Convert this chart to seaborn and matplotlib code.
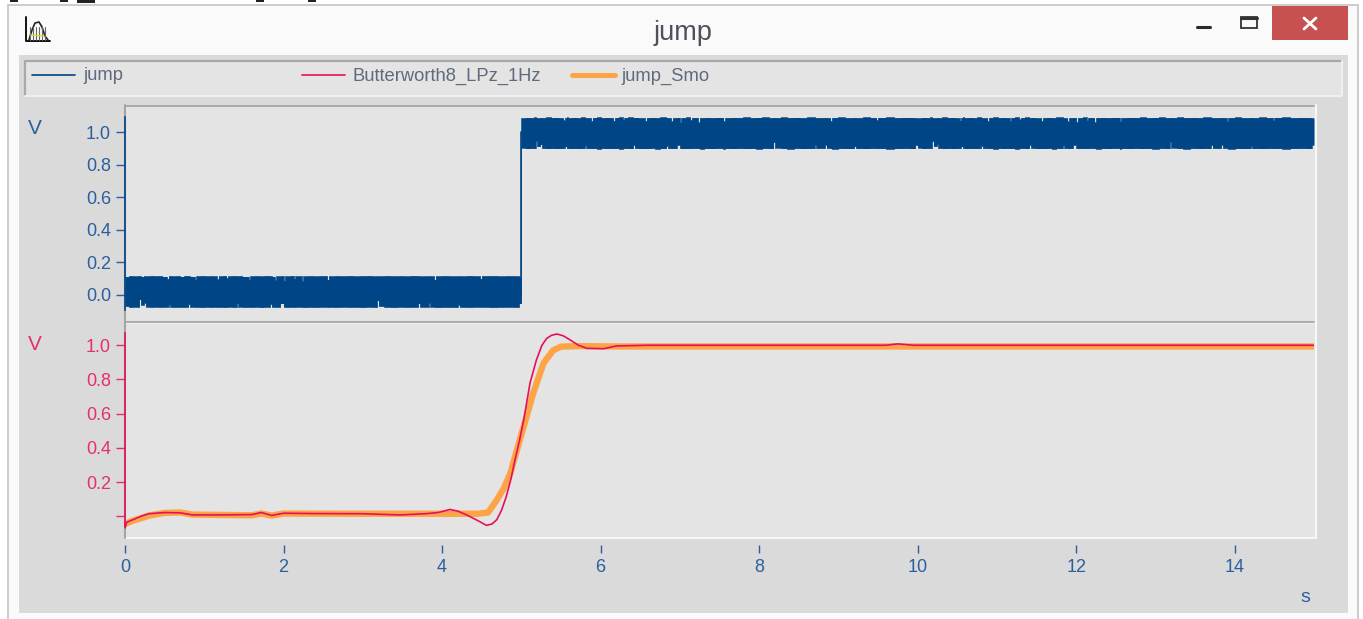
import numpy as np
import pandas as pd
import matplotlib.pyplot as plt
from matplotlib.patches import Rectangle
import seaborn as sns

# one 5 s stretch of the noise band, it repeats in the picture (offset from the level)
noise_t = [0.00, 0.05, 0.11, 0.16, 0.18, 0.20, 0.24, 0.26, 0.31, 0.37, 0.42, 0.47, 0.53, 0.55, 0.57, 0.59,
           0.64, 0.70, 0.75, 0.80, 0.82, 0.88, 0.90, 0.95, 1.01, 1.06, 1.11, 1.16, 1.18, 1.23, 1.28, 1.30,
           1.35, 1.41, 1.43, 1.48, 1.56, 1.58, 1.63, 1.69, 1.75, 1.83, 1.85, 1.89, 1.91, 1.96, 2.00, 2.02,
           2.08, 2.13, 2.15, 2.23, 2.25, 2.31, 2.38, 2.45, 2.55, 2.57, 2.64, 2.72, 2.80, 2.88, 2.96, 3.04,
           3.12, 3.18, 3.20, 3.27, 3.35, 3.44, 3.52, 3.60, 3.70, 3.72, 3.83, 3.85, 3.90, 3.92, 4.00, 4.08,
           4.20, 4.22, 4.31, 4.40, 4.48, 4.50, 4.60, 4.70, 4.80, 4.90, 4.97]
noise_top = [.100, .104, .102, .105, .103, .101, .104, .102, .105, .103, .104, .101, .086, .103, .105, .102,
             .104, .101, .105, .103, .101, .082, .103, .105, .102, .104, .102, .084, .103, .105, .092, .103,
             .105, .102, .104, .101, .082, .102, .104, .102, .105, .103, .101, .080, .102, .104, .076, .102,
             .105, .088, .103, .074, .102, .104, .102, .104, .082, .102, .104, .103, .105, .102, .104, .105,
             .102, .104, .102, .105, .103, .104, .102, .105, .103, .102, .104, .102, .082, .103, .105, .102,
             .104, .102, .105, .103, .088, .104, .105, .102, .104, .103, .100]
noise_bot = [-.080, -.086, -.084, -.085, -.040, -.072, -.060, -.083, -.086, -.084, -.086, -.085, -.083, -.072, -.083, -.086,
             -.085, -.086, -.085, -.068, -.084, -.086, -.085, -.087, -.084, -.086, -.085, -.086, -.085, -.087, -.085, -.084,
             -.086, -.064, -.083, -.086, -.085, -.086, -.084, -.087, -.085, -.068, -.084, -.086, -.085, -.064, -.084, -.086,
             -.085, -.086, -.084, -.086, -.087, -.085, -.086, -.084, -.087, -.085, -.086, -.084, -.086, -.085, -.087, -.084,
             -.086, -.046, -.080, -.085, -.087, -.084, -.086, -.085, -.064, -.084, -.062, -.083, -.086, -.087, -.085, -.086,
             -.072, -.085, -.086, -.084, -.086, -.085, -.087, -.085, -.084, -.086, -.064]
segment_start = [0, 5, 10]
segment_level = [0.012, 0.985, 0.985]

# lower plot, filtered signals
butter_t = [0.00, 0.02, 0.10, 0.20, 0.30, 0.50, 0.70, 0.85, 1.20, 1.60, 1.72, 1.85, 2.00, 2.40, 3.00, 3.47, 3.79, 3.95,
            4.10, 4.20, 4.31, 4.45, 4.56, 4.63, 4.69, 4.75, 4.81, 4.87, 4.92, 4.98, 5.03, 5.11, 5.19, 5.26, 5.32, 5.38,
            5.45, 5.53, 5.62, 5.72, 5.83, 6.04, 6.20, 6.60, 8.00, 9.60, 9.75, 9.95, 12.00, 15.00]
butter_v = [-0.07, -0.035, -0.02, 0.000, 0.015, 0.022, 0.020, 0.008, 0.008, 0.010, 0.022, 0.005, 0.018, 0.016, 0.015, 0.008, 0.015, 0.022,
            0.040, 0.030, 0.008, -0.025, -0.053, -0.045, -0.020, 0.035, 0.115, 0.220, 0.330, 0.450, 0.563, 0.780, 0.914, 1.000, 1.040, 1.058,
            1.066, 1.055, 1.030, 1.000, 0.982, 0.980, 0.996, 1.000, 1.000, 1.000, 1.008, 1.000, 1.000, 1.000]
smo_t = [0.00, 0.10, 0.20, 0.30, 0.50, 0.70, 0.85, 1.60, 1.72, 1.85, 2.00, 3.00, 4.00, 4.45, 4.58, 4.69, 4.78, 4.86, 4.98,
         5.07, 5.15, 5.28, 5.40, 5.50, 5.70, 6.20, 10.00, 15.00]
smo_v = [-0.045, -0.025, -0.012, 0.004, 0.020, 0.022, 0.010, 0.006, 0.016, 0.004, 0.016, 0.015, 0.015, 0.015, 0.022, 0.095, 0.165, 0.250, 0.446,
         0.590, 0.720, 0.895, 0.970, 0.992, 0.995, 0.993, 0.993, 0.993]

x_ticks = [0, 2, 4, 6, 8, 10, 12, 14]
top_y_ticks = [0.0, 0.2, 0.4, 0.6, 0.8, 1.0]
low_y_ticks = [0.0, 0.2, 0.4, 0.6, 0.8, 1.0]
low_y_labels = ["", "0.2", "0.4", "0.6", "0.8", "1.0"]

blue = "#004586"
red = "#e4105a"
orange = "#ffa347"
tick_blue = "#2b5f9e"
tick_red = "#e5306a"
panel = "#e4e4e4"
outer = "#dadada"

W, H = 1363, 619

sns.set_theme(style="white")
plt.rcParams['font.family'] = ['Liberation Sans', 'DejaVu Sans']

fig = plt.figure(figsize=(W / 100, H / 100), dpi=100, facecolor="white")

# window chrome, drawn in pixel coordinates
bg = fig.add_axes([0, 0, 1, 1], zorder=0)
bg.set_xlim(0, W)
bg.set_ylim(H, 0)
bg.axis("off")


def box(x0, y0, x1, y1, **kw):
    bg.add_patch(Rectangle((x0, y0), x1 - x0, y1 - y0, **kw))


box(8, 5, 1358, 640, facecolor="#fafafa", edgecolor="#c4c4c4", lw=1.2)
box(19, 55, 1348, 613, facecolor=outer, edgecolor="none")
box(1272, 6, 1348, 40, facecolor="#c75050", edgecolor="none")
bg.plot([1304, 1316], [18, 29], color="white", lw=2)
bg.plot([1304, 1316], [29, 18], color="white", lw=2)
bg.plot([1197, 1210], [27, 27], color="#2a2a2a", lw=2.2)
box(1241, 17, 1257, 28, facecolor="none", edgecolor="#333333", lw=1.3)
bg.plot([1241, 1257], [17.5, 17.5], color="#333333", lw=2.2)
for bx0, bx1, by in [(10, 18, 1.5), (60, 68, 1.5), (77, 95, 3), (256, 264, 1.5), (308, 316, 1.5)]:
    box(bx0, 0, bx1, by, facecolor="#222222", edgecolor="none")

# little app icon
bg.plot([26, 26, 50], [17, 41, 41], color="#111111", lw=1.4)
bg.plot([29, 32, 35, 39, 42, 45, 48], [40, 30, 23, 22, 27, 36, 40], color="#222222", lw=1.2)
for ix in [30, 33, 36, 39, 42, 45]:
    bg.plot([ix, ix], [40, 27], color="#666666", lw=0.8)
bg.plot([31, 44], [35, 36], color="#e3d820", lw=0.9)

bg.text(683, 33, "jump", fontsize=19.5, color="#50505c", ha="center", va="center")

# legend box
box(24, 60, 1342, 96, facecolor=panel, edgecolor="none")
bg.plot([25, 25, 1341], [95, 61, 61], color="#a9a9a9", lw=1.6)
bg.plot([25, 1342, 1342], [95.5, 95.5, 61], color="#f2f2f2", lw=1.3)
legend_names = ["jump", "Butterworth8_LPz_1Hz", "jump_Smo"]
legend_colors = [blue, red, orange]
legend_widths = [1.2, 1.2, 3.6]
legend_x = [32, 302, 572]
for name, col, lw, lx in zip(legend_names, legend_colors, legend_widths, legend_x):
    bg.plot([lx, lx + 43], [74.5, 74.5], color=col, lw=lw)
    bg.text(lx + 51 - (2 if lx == 572 else 0), 76, name, fontsize=13.2, color="#5f6a7c", va="center")

# plot backgrounds and their frame lines
box(125, 105, 1316, 539, facecolor=panel, edgecolor="none")
bg.plot([125, 1314], [105.5, 105.5], color="#a4a4a4", lw=1.3)
bg.plot([125, 1314], [321.5, 321.5], color="#a4a4a4", lw=1.3)
bg.plot([125, 1315], [322.8, 322.8], color="#f0f0f0", lw=0.8)
bg.plot([125, 1315.5, 1315.5], [538, 538, 105], color="#f7f7f7", lw=1.5)
bg.plot([125.3, 125.3], [105, 538], color="#a4a4a4", lw=1.5)

ax_left = 125 / W
ax_w = (1314 - 125) / W
ax_top = fig.add_axes([ax_left, 1 - 321 / H, ax_w, (321 - 105) / H], zorder=2, facecolor="none")
ax_low = fig.add_axes([ax_left, 1 - 537 / H, ax_w, (537 - 322) / H], zorder=2, facecolor="none")

# upper plot: noise band + jump edge
jump_t = np.concatenate([np.array(noise_t) + s for s in segment_start] + [[15.0]])
jump_top = np.concatenate([np.array(noise_top) + l for l in segment_level] + [[1.09]])
jump_bot = np.concatenate([np.array(noise_bot) + l for l in segment_level] + [[0.90]])
df_jump = pd.DataFrame({"t": jump_t, "top": jump_top, "bot": jump_bot})

ax_top.fill_between(df_jump["t"], df_jump["bot"], df_jump["top"], step="post", color=blue, lw=0)
sns.lineplot(data=df_jump, x="t", y="top", color=blue, lw=0.5, drawstyle="steps-post", estimator=None, ax=ax_top)
sns.lineplot(data=df_jump, x="t", y="bot", color=blue, lw=0.5, drawstyle="steps-post", estimator=None, ax=ax_top)
sns.lineplot(x=[5, 5], y=[0, 1], color=blue, lw=1.2, estimator=None, ax=ax_top)

# lower plot
sns.lineplot(x=smo_t, y=smo_v, color=orange, lw=4.6, estimator=None, ax=ax_low, solid_joinstyle="round")
sns.lineplot(x=butter_t, y=butter_v, color=red, lw=1.2, estimator=None, ax=ax_low)

ax_top.set_xlim(0, 15)
ax_low.set_xlim(0, 15)
ax_top.set_ylim(-0.16, 1.166)
ax_low.set_ylim(-0.121, 1.136)

for ax in [ax_top, ax_low]:
    ax.set_xlabel("")
    ax.set_ylabel("")
    for side in ["top", "right", "bottom"]:
        ax.spines[side].set_visible(False)

ax_top.set_xticks([])
ax_top.set_yticks(top_y_ticks)
ax_top.set_yticklabels([f"{v:.1f}" for v in top_y_ticks])
ax_top.spines["left"].set_color(blue)
ax_top.spines["left"].set_linewidth(1.2)
ax_top.spines["left"].set_bounds(-0.09, 1.09)
ax_top.tick_params(axis="y", left=True, length=6.5, width=1, color=tick_blue, labelcolor=tick_blue, labelsize=13, pad=3.5)

ax_low.set_yticks(low_y_ticks)
ax_low.set_yticklabels(low_y_labels)
ax_low.spines["left"].set_color(red)
ax_low.spines["left"].set_linewidth(1.2)
ax_low.spines["left"].set_bounds(-0.063, 1.07)
ax_low.tick_params(axis="y", left=True, length=6.5, width=1, color=tick_red, labelcolor=tick_red, labelsize=13, pad=3.5)

ax_low.spines["bottom"].set_position(("outward", 5.8))
ax_low.set_xticks(x_ticks)
ax_low.tick_params(axis="x", bottom=True, length=5.8, width=1, color=tick_blue, labelcolor=tick_blue, labelsize=13, pad=4.5)

bg.text(35, 129, "V", fontsize=15, color=tick_blue, ha="center", va="center")
bg.text(35, 345, "V", fontsize=15, color=tick_red, ha="center", va="center")
bg.text(1305, 598, "s", fontsize=14, color=tick_blue, ha="center", va="center")

fig.savefig("out.png", dpi=100)
